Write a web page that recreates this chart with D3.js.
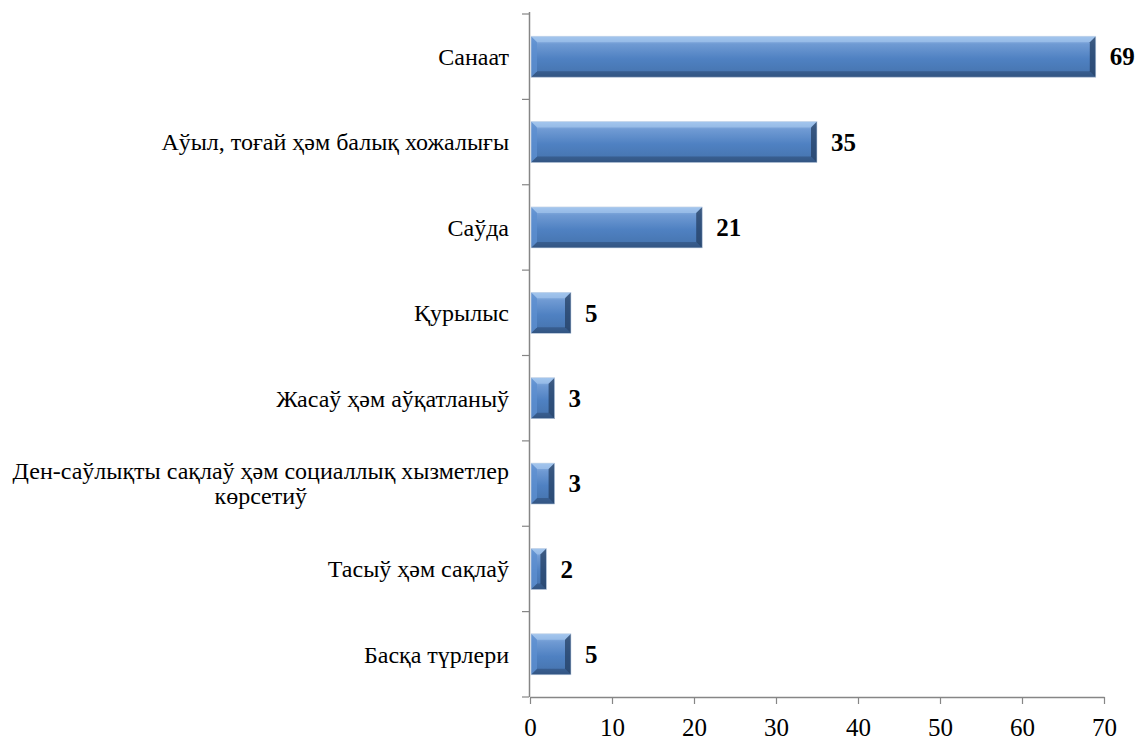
<!DOCTYPE html>
<html><head><meta charset="utf-8">
<script src="https://cdn.jsdelivr.net/npm/d3@7"></script>
<style>body{margin:0;background:#fff}svg{display:block}</style>
</head><body>
<script>
const categories = ["Санаат","Аўыл, тоғай ҳәм балық хожалығы","Саўда","Қурылыс","Жасаў ҳәм аўқатланыў","Ден-саўлықты сақлаў ҳәм социаллық хызметлер көрсетиў","Тасыў ҳәм сақлаў","Басқа түрлери"];
const labelLines = [["Санаат"],["Аўыл, тоғай ҳәм балық хожалығы"],["Саўда"],["Қурылыс"],["Жасаў ҳәм аўқатланыў"],["Ден-саўлықты сақлаў ҳәм социаллық хызметлер","көрсетиў"],["Тасыў ҳәм сақлаў"],["Басқа түрлери"]];
const values = [69,35,21,5,3,3,2,5];
const xTicks = [0,10,20,30,40,50,60,70];

const W=1141,H=740;
const svg=d3.select("body").append("svg").attr("width",W).attr("height",H);
const x=d3.scaleLinear().domain([0,70]).range([530,1104]);
const y=d3.scaleBand().domain(categories).range([14,697]).paddingInner(0.52).paddingOuter(0.26);
const font="Liberation Serif, Times New Roman, serif";

const defs=svg.append("defs");
const g=defs.append("linearGradient").attr("id","bar").attr("x1",0).attr("y1",0).attr("x2",0).attr("y2",1);
[[0,"#9cc0ea"],[0.2,"#6f9ad3"],[0.55,"#4f81c2"],[0.85,"#4877b3"],[1,"#3a5f8f"]].forEach(([o,c])=>g.append("stop").attr("offset",o).attr("stop-color",c));

// axes
const axisColor="#868686";
svg.append("line").attr("x1",529.5).attr("x2",529.5).attr("y1",12).attr("y2",697).attr("stroke",axisColor).attr("stroke-width",1.5);
const bandTicks=categories.map(c=>y(c)-y.step()*y.paddingInner()/2).concat([697]);
svg.selectAll(".yt").data(bandTicks).join("line").attr("x1",522).attr("x2",529).attr("y1",d=>d).attr("y2",d=>d).attr("stroke",axisColor).attr("stroke-width",1.2);

const xAxis=svg.append("g").attr("transform","translate(0,697)").call(d3.axisBottom(x).tickValues(xTicks).tickSize(7).tickSizeOuter(0));
xAxis.attr("font-family",font).attr("font-size",25);
xAxis.select(".domain").attr("stroke",axisColor).attr("stroke-width",1.5);
xAxis.selectAll(".tick line").attr("stroke",axisColor).attr("stroke-width",1.2);
xAxis.selectAll(".tick text").attr("fill","#000").attr("y",39).attr("dy",0);

// bars
const bh=y.bandwidth(), bev=6;
const bars=svg.selectAll(".bar").data(categories).join("g");
bars.each(function(c,i){
  const gg=d3.select(this);
  const x0=x(0)+1, x1=x(values[i]), y0=y(c), y1=y0+bh;
  const b=Math.min(bev,(x1-x0)/2);
  gg.append("rect").attr("x",x0).attr("y",y0).attr("width",x1-x0).attr("height",bh).attr("fill","url(#bar)");
  gg.append("polygon").attr("points",[[x0,y0],[x1,y0],[x1-b,y0+b],[x0+b,y0+b]].join(" ")).attr("fill","#a9c9f0").attr("opacity",0.6);
  gg.append("polygon").attr("points",[[x0,y1],[x1,y1],[x1-b,y1-b],[x0+b,y1-b]].join(" ")).attr("fill","#2f4f7a").attr("opacity",0.6);
  gg.append("polygon").attr("points",[[x0,y0],[x0+b,y0+b],[x0+b,y1-b],[x0,y1]].join(" ")).attr("fill","#5d8fd0").attr("opacity",0.8);
  gg.append("polygon").attr("points",[[x1,y0],[x1-b,y0+b],[x1-b,y1-b],[x1,y1]].join(" ")).attr("fill","#243f63").attr("opacity",0.75);
  gg.append("rect").attr("x",x0).attr("y",y0).attr("width",x1-x0).attr("height",bh).attr("fill","none").attr("stroke","#c9d6e6").attr("stroke-width",0.6);
});

// value labels
svg.selectAll(".val").data(values).join("text")
  .attr("x",d=>x(d)+14).attr("y",(d,i)=>y(categories[i])+bh/2).attr("dy","0.35em")
  .attr("font-family",font).attr("font-size",25).attr("font-weight","bold").text(d=>d);

// category labels
const right=509;
labelLines.forEach((lines,i)=>{
  const cy=y(categories[i])+bh/2;
  const lh=25;
  const t=svg.append("text").attr("font-family",font).attr("font-size",24).attr("text-anchor","middle");
  const spans=lines.map((l,k)=>t.append("tspan").attr("y",cy+(k-(lines.length-1)/2)*lh).attr("dy","0.35em").text(l));
  const wmax=d3.max(spans,s=>s.node().getComputedTextLength());
  spans.forEach(s=>s.attr("x",right-wmax/2));
});
</script>
</body></html>
